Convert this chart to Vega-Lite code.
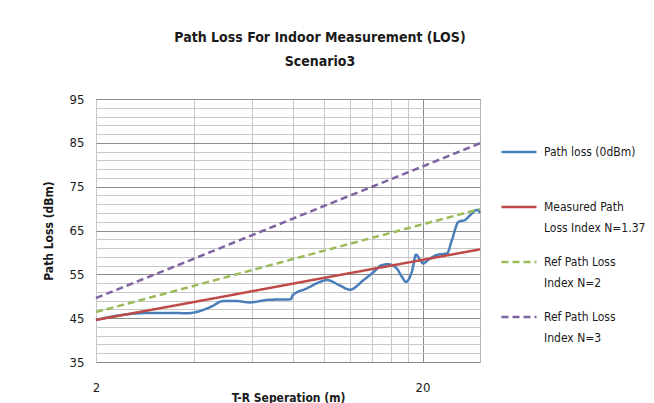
{
  "$schema": "https://vega.github.io/schema/vega-lite/v6.json",
  "autosize": {"type": "none"},
  "width": 384,
  "height": 263,
  "padding": {"left": 96, "top": 99, "right": 174, "bottom": 41},
  "background": "white",
  "title": {
    "text": ["Path Loss For Indoor Measurement (LOS)", "Scenario3"],
    "font": "DejaVu Sans Condensed, Liberation Sans",
    "fontSize": 14,
    "fontWeight": "bold",
    "lineHeight": 24,
    "color": "#1a1a1a",
    "anchor": "middle",
    "frame": "group",
    "dx": 32,
    "offset": 24
  },
  "config": {
    "view": {"stroke": "#b5b5b5", "strokeWidth": 1},
    "font": "DejaVu Sans Condensed, Liberation Sans"
  },
  "data": {
    "values": [
      {"s": "Path loss (0dBm)", "d": 2.0, "pl": 44.6},
      {"s": "Path loss (0dBm)", "d": 2.5, "pl": 45.9},
      {"s": "Path loss (0dBm)", "d": 3.0, "pl": 46.2},
      {"s": "Path loss (0dBm)", "d": 3.5, "pl": 46.2},
      {"s": "Path loss (0dBm)", "d": 3.8, "pl": 46.1},
      {"s": "Path loss (0dBm)", "d": 4.0, "pl": 46.3},
      {"s": "Path loss (0dBm)", "d": 4.5, "pl": 47.6},
      {"s": "Path loss (0dBm)", "d": 4.9, "pl": 48.9},
      {"s": "Path loss (0dBm)", "d": 5.4, "pl": 48.9},
      {"s": "Path loss (0dBm)", "d": 5.9, "pl": 48.6},
      {"s": "Path loss (0dBm)", "d": 6.8, "pl": 49.2},
      {"s": "Path loss (0dBm)", "d": 7.9, "pl": 49.3},
      {"s": "Path loss (0dBm)", "d": 8.0, "pl": 50.2},
      {"s": "Path loss (0dBm)", "d": 8.85, "pl": 51.8},
      {"s": "Path loss (0dBm)", "d": 9.9, "pl": 53.5},
      {"s": "Path loss (0dBm)", "d": 10.2, "pl": 53.7},
      {"s": "Path loss (0dBm)", "d": 11.2, "pl": 52.4},
      {"s": "Path loss (0dBm)", "d": 12.0, "pl": 51.5},
      {"s": "Path loss (0dBm)", "d": 13.2, "pl": 53.7},
      {"s": "Path loss (0dBm)", "d": 14.2, "pl": 55.6},
      {"s": "Path loss (0dBm)", "d": 15.0, "pl": 57.1},
      {"s": "Path loss (0dBm)", "d": 15.7, "pl": 57.3},
      {"s": "Path loss (0dBm)", "d": 16.7, "pl": 56.3},
      {"s": "Path loss (0dBm)", "d": 17.3, "pl": 54.4},
      {"s": "Path loss (0dBm)", "d": 17.8, "pl": 53.3},
      {"s": "Path loss (0dBm)", "d": 18.6, "pl": 55.9},
      {"s": "Path loss (0dBm)", "d": 19.1, "pl": 59.5},
      {"s": "Path loss (0dBm)", "d": 19.7, "pl": 58.2},
      {"s": "Path loss (0dBm)", "d": 20.1, "pl": 57.5},
      {"s": "Path loss (0dBm)", "d": 20.9, "pl": 58.4},
      {"s": "Path loss (0dBm)", "d": 22.1, "pl": 59.4},
      {"s": "Path loss (0dBm)", "d": 23.8, "pl": 59.8},
      {"s": "Path loss (0dBm)", "d": 24.6, "pl": 62.8},
      {"s": "Path loss (0dBm)", "d": 25.8, "pl": 67.0},
      {"s": "Path loss (0dBm)", "d": 27.0, "pl": 67.4},
      {"s": "Path loss (0dBm)", "d": 28.0, "pl": 68.5},
      {"s": "Path loss (0dBm)", "d": 29.4, "pl": 69.7},
      {"s": "Path loss (0dBm)", "d": 30.0, "pl": 69.0},
      {"s": "Measured Path Loss Index N=1.37", "d": 2.0, "pl": 44.6},
      {"s": "Measured Path Loss Index N=1.37", "d": 4.0, "pl": 48.7},
      {"s": "Measured Path Loss Index N=1.37", "d": 10.0, "pl": 54.2},
      {"s": "Measured Path Loss Index N=1.37", "d": 20.0, "pl": 58.3},
      {"s": "Measured Path Loss Index N=1.37", "d": 30.0, "pl": 60.7},
      {"s": "Ref Path Loss Index N=2", "d": 2.0, "pl": 46.4},
      {"s": "Ref Path Loss Index N=2", "d": 4.0, "pl": 52.4},
      {"s": "Ref Path Loss Index N=2", "d": 10.0, "pl": 60.4},
      {"s": "Ref Path Loss Index N=2", "d": 20.0, "pl": 66.4},
      {"s": "Ref Path Loss Index N=2", "d": 30.0, "pl": 69.9},
      {"s": "Ref Path Loss Index N=3", "d": 2.0, "pl": 49.6},
      {"s": "Ref Path Loss Index N=3", "d": 4.0, "pl": 58.6},
      {"s": "Ref Path Loss Index N=3", "d": 10.0, "pl": 70.6},
      {"s": "Ref Path Loss Index N=3", "d": 20.0, "pl": 79.6},
      {"s": "Ref Path Loss Index N=3", "d": 30.0, "pl": 84.9}
    ]
  },
  "mark": {"type": "line", "strokeWidth": 2.5, "interpolate": "monotone"},
  "encoding": {
    "x": {
      "field": "d",
      "type": "quantitative",
      "scale": {"type": "log", "domain": [2, 30], "nice": false},
      "axis": {
        "title": "T-R Seperation  (m)",
        "values": [2, 4, 6, 8, 10, 12, 14, 16, 18, 20],
        "labelExpr": "datum.value == 2 || datum.value == 20 ? datum.value : ''",
        "labelFontSize": 13,
        "labelColor": "#1a1a1a",
        "labelPadding": 19,
        "labelFlush": false,
        "ticks": false,
        "domain": false,
        "grid": true,
        "gridColor": {"condition": {"test": "datum.value == 20", "value": "#8c8c8c"}, "value": "#c8c8c8"},
        "gridWidth": 1,
        "titleFontSize": 12,
        "titleFontWeight": "bold",
        "titleColor": "#1a1a1a",
        "titlePadding": -2
      }
    },
    "y": {
      "field": "pl",
      "type": "quantitative",
      "scale": {"domain": [35, 95], "nice": false, "zero": false},
      "axis": {
        "title": "Path Loss  (dBm)",
        "values": [35, 37, 39, 41, 43, 45, 47, 49, 51, 53, 55, 57, 59, 61, 63, 65, 67, 69, 71, 73, 75, 77, 79, 81, 83, 85, 87, 89, 91, 93, 95],
        "labelExpr": "(datum.value - 35) % 10 == 0 ? datum.value : ''",
        "labelFontSize": 13,
        "labelColor": "#1a1a1a",
        "labelPadding": 12,
        "ticks": false,
        "domain": false,
        "grid": true,
        "gridColor": {"condition": {"test": "(datum.value - 35) % 10 == 0", "value": "#8c8c8c"}, "value": "#c8c8c8"},
        "gridWidth": 1,
        "titleFontSize": 12,
        "titleFontWeight": "bold",
        "titleColor": "#1a1a1a",
        "titlePadding": 14
      }
    },
    "color": {
      "field": "s",
      "type": "nominal",
      "sort": ["Path loss (0dBm)", "Measured Path Loss Index N=1.37", "Ref Path Loss Index N=2", "Ref Path Loss Index N=3"],
      "scale": {
        "domain": ["Path loss (0dBm)", "Measured Path Loss Index N=1.37", "Ref Path Loss Index N=2", "Ref Path Loss Index N=3"],
        "range": ["#4a7ebb", "#be4b48", "#9bbb59", "#8064a2"]
      },
      "legend": {
        "title": null,
        "orient": "none",
        "legendX": 404,
        "legendY": 34,
        "symbolType": "stroke",
        "symbolSize": 1225,
        "symbolStrokeWidth": 2.5,
        "labelFontSize": 12,
        "labelColor": "#1a1a1a",
        "labelLimit": 200,
        "labelOffset": 6,
        "rowPadding": 9,
        "encode": {"labels": {"update": {"lineHeight": {"value": 21}}}},
        "labelExpr": "datum.label == 'Path loss (0dBm)' ? ['Path loss (0dBm)', ' '] : datum.label == 'Measured Path Loss Index N=1.37' ? ['Measured Path', 'Loss Index  N=1.37'] : datum.label == 'Ref Path Loss Index N=2' ? ['Ref Path Loss', 'Index N=2'] : ['Ref Path Loss', 'Index N=3']"
      }
    },
    "strokeDash": {
      "field": "s",
      "type": "nominal",
      "sort": ["Path loss (0dBm)", "Measured Path Loss Index N=1.37", "Ref Path Loss Index N=2", "Ref Path Loss Index N=3"],
      "scale": {
        "domain": ["Path loss (0dBm)", "Measured Path Loss Index N=1.37", "Ref Path Loss Index N=2", "Ref Path Loss Index N=3"],
        "range": [[1, 0], [1, 0], [7, 4], [7, 4]]
      }
    }
  }
}
